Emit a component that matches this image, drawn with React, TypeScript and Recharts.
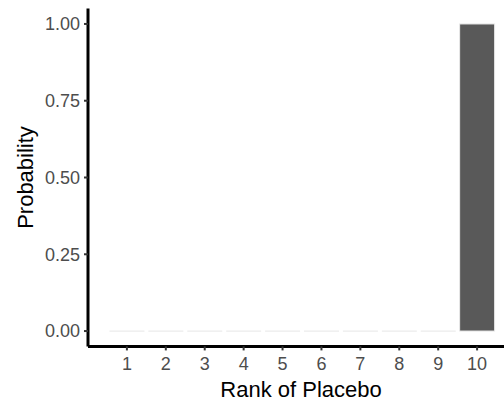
import { BarChart, Bar, XAxis, YAxis } from 'recharts';

// Rank probabilities for placebo
const ranks = [1, 2, 3, 4, 5, 6, 7, 8, 9, 10];
const probabilities = [0, 0, 0, 0, 0, 0, 0, 0, 0, 1];
const yTicks = [0, 0.25, 0.5, 0.75, 1];

const data = ranks.map((rank, i) => ({ rank, prob: probabilities[i] }));

const FONT = 'Liberation Sans, Arial, sans-serif';

// zero-height bars still show their light outline
function OutlinedBar(props: any) {
  const { x, y, width, height } = props;
  const h = Math.max(height || 0, 0);
  return (
    <g>
      {h > 0 && <rect x={x} y={y} width={width} height={h} fill="#595959" stroke="#ebebeb" strokeWidth={1} />}
      {h === 0 && <line x1={x} x2={x + width} y1={y} y2={y} stroke="#ebebeb" strokeWidth={1.2} />}
    </g>
  );
}

export default function App() {
  return (
    <div style={{ position: 'absolute', left: 0, top: 0, width: 504, height: 402, overflow: 'hidden', background: '#fff' }}>
      <BarChart
        width={540}
        height={402}
        data={data}
        margin={{ top: 8.6, right: 24, left: 0, bottom: 0 }}
        barSize={35}
      >
        <XAxis
          dataKey="rank"
          type="number"
          domain={[0, 11]}
          ticks={ranks}
          allowDecimals={false}
          height={55.6}
          axisLine={{ stroke: '#000', strokeWidth: 3 }}
          tickLine={{ stroke: '#333', strokeWidth: 2 }}
          tickSize={4}
          tickMargin={7}
          tick={{ fill: '#4d4d4d', fontSize: 18, fontFamily: FONT }}
          label={{
            content: () => (
              <text x={301} y={396.5} textAnchor="middle" fontSize={22} fontFamily={FONT} fill="#000">
                Rank of Placebo
              </text>
            ),
          }}
        />
        <YAxis
          type="number"
          domain={[-0.05, 1.05]}
          ticks={yTicks}
          width={88}
          axisLine={{ stroke: '#000', strokeWidth: 3 }}
          tickLine={{ stroke: '#333', strokeWidth: 2 }}
          tickSize={4}
          tickMargin={4}
          tickFormatter={(v: number) => v.toFixed(2)}
          tick={{ fill: '#4d4d4d', fontSize: 18, fontFamily: FONT }}
          label={{
            content: () => (
              <text
                x={33}
                y={177.5}
                transform="rotate(-90 33 177.5)"
                textAnchor="middle"
                fontSize={22}
                fontFamily={FONT}
                fill="#000"
              >
                Probability
              </text>
            ),
          }}
        />
        <Bar dataKey="prob" shape={OutlinedBar} isAnimationActive={false} />
      </BarChart>
    </div>
  );
}
